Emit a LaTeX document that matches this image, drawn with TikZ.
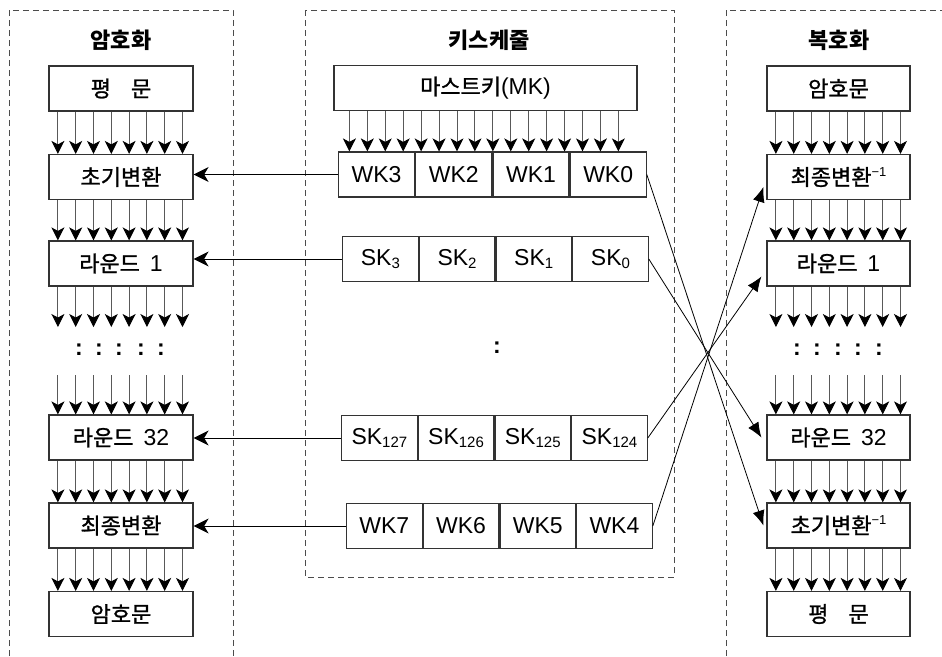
\documentclass[tikz,border=0pt]{standalone}
\usepackage{fontspec}
\setmainfont{Liberation Sans}
\newfontfamily\kr{Noto Sans CJK KR}[FakeBold=1.2]
\newfontfamily\krt{Noto Sans CJK KR}
\usetikzlibrary{arrows.meta,calc}

% Korean text, Latin subscript and the inverse mark
\newcommand\ko[1]{{\kr\fontsize{22}{25}\selectfont #1}}
\newcommand\lsub[1]{\raisebox{-3pt}{\fontsize{15}{15}\selectfont #1}}
\newcommand\inv{\raisebox{9pt}{\fontsize{13}{13}\selectfont −1}}

\begin{document}
\begin{tikzpicture}[x=1pt,y=-1pt,
  blk/.style={draw=black!80, line width=1.2pt, fill=white, minimum height=45pt,
    inner sep=0pt, font=\fontsize{23}{26}\selectfont},
  col/.style={blk, minimum width=144pt},
  kbox/.style={blk, minimum width=75.5pt, anchor=west},
  grp/.style={draw=black!70, line width=0.8pt, dash pattern=on 6pt off 4pt},
  varrow/.style={draw=black!65, line width=0.9pt,
    -{Stealth[length=13pt,width=13pt,inset=3.5pt,color=black]}},
  harrow/.style={black, line width=0.9pt, -{Stealth[length=15pt,width=15pt,inset=4.5pt]}},
  xarrow/.style={black, line width=0.8pt, -{Latex[length=15pt,width=12pt]}},
  ttl/.style={font=\krt\bfseries\fontsize{22}{25}\selectfont},
  dotsym/.style={font=\bfseries\fontsize{23}{26}\selectfont, anchor=base, inner sep=0pt}
]
\useasboundingbox (0,0) rectangle (942,656);

% dashed groups
\draw[grp] (9,656) -- (9,10) -- (233,10) -- (233,656);
\draw[grp] (305,10) rectangle (674,577);
\draw[grp] (726,656) -- (726,10) -- (942,10);

% titles
\node[ttl] (tenc) at (121,40) {암호화};
\node[ttl] (tkey) at (489,40) {키스케줄};
\node[ttl] (tdec) at (839,40) {복호화};

% encryption column
\node[col] (e0) at (121,88.5) {\ko{평}\hspace{20pt}\ko{문}};
\node[col] (e1) at (121,177) {\ko{초기변환}};
\node[col] (e2) at (121,263.5) {\ko{라운드}\hspace{10pt}1};
\node[col] (e3) at (121,437.5) {\ko{라운드}\hspace{10pt}32};
\node[col] (e4) at (121,525.5) {\ko{최종변환}};
\node[col] (e5) at (121,614) {\ko{암호문}};

% decryption column
\node[col, minimum width=143pt] (d0) at (838.5,88.5) {\ko{암호문}};
\node[col, minimum width=143pt] (d1) at (838.5,177) {\ko{최종변환}\inv};
\node[col, minimum width=143pt] (d2) at (838.5,263.5) {\ko{라운드}\hspace{10pt}1};
\node[col, minimum width=143pt] (d3) at (838.5,437.5) {\ko{라운드}\hspace{10pt}32};
\node[col, minimum width=143pt] (d4) at (838.5,525.5) {\ko{초기변환}\inv};
\node[col, minimum width=143pt] (d5) at (838.5,614) {\ko{평}\hspace{20pt}\ko{문}};

% key schedule
\node[blk, minimum width=303pt] (mk) at (485.5,88) {\ko{마스트키}(MK)};
\node[kbox, minimum width=76pt] (wk3) at (338,174.5) {WK3};
\node[kbox, minimum width=76pt] (wk2) at (wk3.east) {WK2};
\node[kbox, minimum width=76pt] (wk1) at (wk2.east) {WK1};
\node[kbox, minimum width=76pt] (wk0) at (wk1.east) {WK0};

\node[kbox] (sk3) at (342,259) {SK\lsub{3}};
\node[kbox] (sk2) at (sk3.east) {SK\lsub{2}};
\node[kbox] (sk1) at (sk2.east) {SK\lsub{1}};
\node[kbox] (sk0) at (sk1.east) {SK\lsub{0}};

\node[kbox] (sk127) at (341,438) {SK\lsub{127}};
\node[kbox] (sk126) at (sk127.east) {SK\lsub{126}};
\node[kbox] (sk125) at (sk126.east) {SK\lsub{125}};
\node[kbox] (sk124) at (sk125.east) {SK\lsub{124}};

\node[kbox] (wk7) at (346,526) {WK7};
\node[kbox] (wk6) at (wk7.east) {WK6};
\node[kbox] (wk5) at (wk6.east) {WK5};
\node[kbox] (wk4) at (wk5.east) {WK4};

% ellipsis marks
\foreach \x [count=\k] in {79,99,119,141,161}
  \node[dotsym] (lc\k) at (\x,355.5) {:};
\foreach \x [count=\k] in {797,817,838,858,879}
  \node[dotsym] (rc\k) at (\x,355.5) {:};
\node[dotsym] (kc) at (497,353.5) {:};

% ends of the open arrow runs around the ellipsis
\coordinate (gapA) at (121,327);
\coordinate (gapB) at (121,375);

% bit-line arrows between column stages
\foreach \a/\b in {e0/e1,e1/e2,e3/e4,e4/e5,d0/d1,d1/d2,d3/d4,d4/d5}
  \foreach \i in {0,...,7} {
    \coordinate (p) at ([xshift={9.5+\i*17.8}]\a.south west);
    \draw[varrow] (p) -- (p |- \b.north);
  }
\foreach \a in {e2,d2}
  \foreach \i in {0,...,7} {
    \coordinate (p) at ([xshift={9.5+\i*17.8}]\a.south west);
    \draw[varrow] (p) -- (p |- gapA);
  }
\foreach \a in {e3,d3}
  \foreach \i in {0,...,7} {
    \coordinate (p) at ([xshift={9.5+\i*17.8}]\a.north west);
    \draw[varrow] (p |- gapB) -- (p);
  }
\foreach \i in {0,...,15} {
  \coordinate (p) at ([xshift={16+\i*17.93}]mk.south west);
  \draw[varrow] (p) -- (p |- wk3.north);
}

% round keys into the encryption stages
\draw[harrow] (wk3.west) -- (wk3.west -| e1.east);
\draw[harrow] (sk3.west) -- (sk3.west -| e2.east);
\draw[harrow] (sk127.west) -- (sk127.west -| e3.east);
\draw[harrow] (wk7.west) -- (wk7.west -| e4.east);

% round keys into the decryption stages
\draw[xarrow] (wk0.east) -- ([xshift=-3pt]d4.west);
\draw[xarrow] (sk0.east) -- ([xshift=-5pt]d3.west);
\draw[xarrow] (sk124.east) -- ([xshift=-5pt,yshift=-13pt]d2.west);
\draw[xarrow] (wk4.east) -- ([xshift=-3pt,yshift=-10pt]d1.west);
\end{tikzpicture}
\end{document}
